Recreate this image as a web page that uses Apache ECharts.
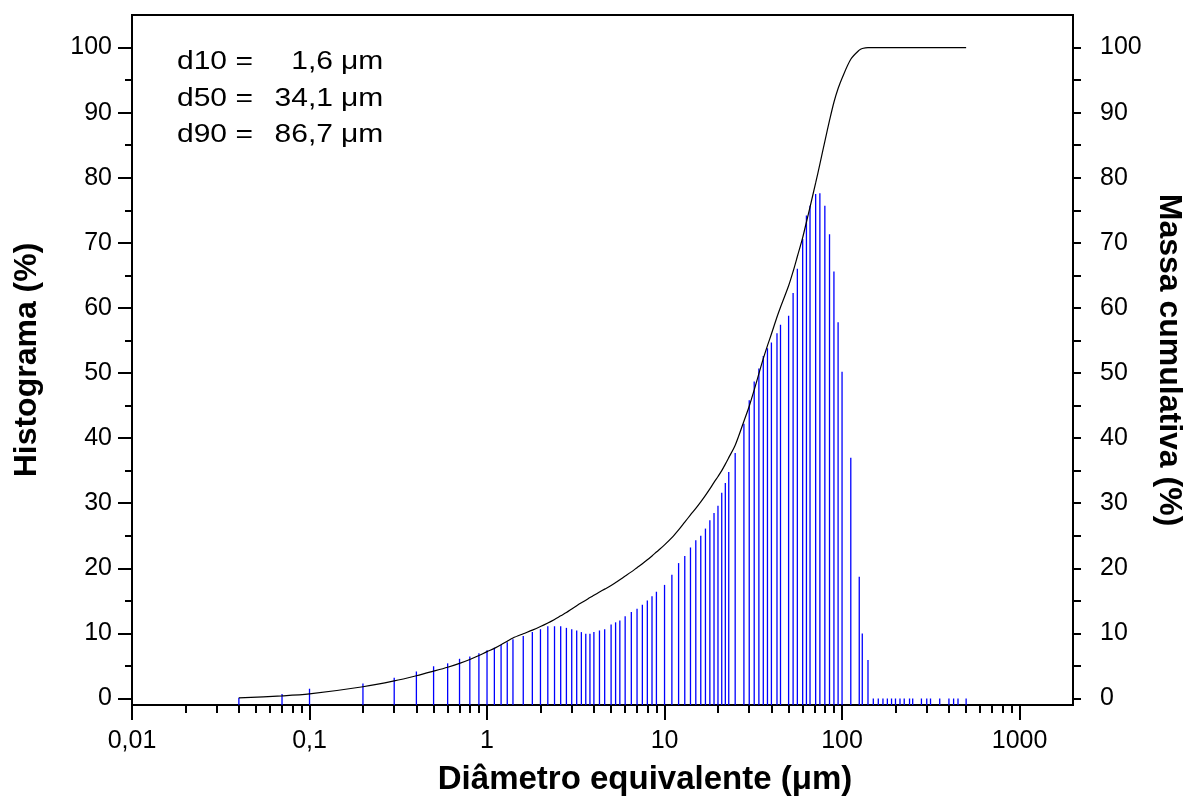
<!DOCTYPE html>
<html>
<head>
<meta charset="utf-8">
<script src="https://cdn.jsdelivr.net/npm/echarts@6/dist/echarts.min.js"></script>
<style>
html,body{margin:0;padding:0;background:#fff;overflow:hidden;}
#chart{width:1183px;height:798px;}
</style>
</head>
<body>
<div id="chart"></div>
<script>
// ---- data ----
const diameters = [0.04, 0.07, 0.1, 0.2, 0.3, 0.4, 0.5, 0.6, 0.7, 0.8, 0.9,
  1.0, 1.1, 1.2, 1.3, 1.4, 1.6, 1.8, 2.0, 2.2, 2.4, 2.6, 2.8, 3.0, 3.2, 3.4, 3.6, 3.8, 4.0,
  4.3, 4.6, 5.0, 5.3, 5.6, 6.0, 6.5, 7.0, 7.5, 8.0, 8.5, 9.0,
  10, 11, 12, 13, 14, 15, 16, 17, 18, 19, 20, 21, 22, 23, 25, 28, 30, 32, 34, 36, 38, 40,
  43, 45, 50, 53, 56, 60, 63, 66, 71, 75, 80, 85, 90, 95, 100,
  112, 125, 130, 140, 150, 160, 170, 180, 190, 200, 212, 224, 240, 250, 280, 300, 315, 355, 400, 425, 450, 500];

const histogram = [0.1, 0.7, 1.5, 2.3, 3.2, 4.15, 4.95, 5.4, 6.1, 6.45, 6.95,
  7.4, 7.8, 8.25, 8.65, 9.1, 9.6, 10.2, 10.65, 11.1, 11.1, 11.1, 10.85, 10.65, 10.45, 10.2, 9.95, 9.95, 10.2,
  10.45, 10.65, 11.35, 11.7, 12.0, 12.65, 13.3, 13.8, 14.4, 15.05, 15.7, 16.4,
  17.45, 19.0, 20.8, 21.9, 23.2, 24.3, 25.0, 26.1, 27.4, 28.5, 29.6, 31.6, 33.1, 34.8, 37.7, 42.2, 45.8, 48.7, 50.7, 52.6, 53.8, 54.7,
  56.1, 57.4, 58.8, 62.3, 66.0, 70.6, 74.2, 75.7, 77.5, 77.6, 75.7, 71.3, 65.6, 57.8, 50.2,
  37.0, 18.7, 10.0, 5.9, 0, 0, 0, 0, 0, 0, 0, 0, 0, 0, 0, 0, 0, 0, 0, 0, 0, 0];

const cumulative = [0.1, 0.4, 0.7, 1.8, 2.7, 3.5, 4.2, 4.8, 5.4, 6.0, 6.6,
  7.2, 7.7, 8.25, 8.8, 9.3, 9.95, 10.5, 11.05, 11.6, 12.15, 12.7, 13.2, 13.75, 14.25, 14.7, 15.1, 15.5, 15.85,
  16.35, 16.8, 17.35, 17.8, 18.25, 18.8, 19.45, 20.1, 20.7, 21.3, 21.9, 22.5,
  23.6, 24.7, 25.9, 27.1, 28.2, 29.2, 30.2, 31.2, 32.2, 33.2, 34.1, 35.0, 36.0, 37.0, 38.9, 42.6, 44.9, 47.4, 49.9, 52.2, 54.2, 56.0,
  58.6, 60.1, 63.4, 65.6, 67.9, 70.8, 73.2, 75.5, 79.2, 82.1, 85.6, 88.8, 91.6, 93.7, 95.3,
  98.2, 99.6, 99.85, 100, 100, 100, 100, 100, 100, 100, 100, 100, 100, 100, 100, 100, 100, 100, 100, 100, 100, 100];

const xMajorTicks = [0.01, 0.1, 1, 10, 100, 1000];
const xMinorTicks = [0.02, 0.03, 0.04, 0.05, 0.06, 0.07, 0.08, 0.09,
  0.2, 0.3, 0.4, 0.5, 0.6, 0.7, 0.8, 0.9,
  2, 3, 4, 5, 6, 7, 8, 9,
  20, 30, 40, 50, 60, 70, 80, 90,
  200, 300, 400, 500, 600, 700, 800, 900];
const yMajorTicks = [0, 10, 20, 30, 40, 50, 60, 70, 80, 90, 100];
const yMinorTicks = [5, 15, 25, 35, 45, 55, 65, 75, 85, 95];
const yRightTicks = [0, 5, 10, 15, 20, 25, 30, 35, 40, 45, 50, 55, 60, 65, 70, 75, 80, 85, 90, 95, 100];

const statLabels = ['d10 =', 'd50 =', 'd90 ='];
const statValues = ['1,6', '34,1', '86,7'];
const statUnit = 'μm';

const X_MIN = 0.01, X_MAX = 2000, Y_MIN = -1, Y_MAX = 105;

// ---- chart ----
const FONT = '"Liberation Sans", Arial, sans-serif';
const fmt = v => String(Number(Number(v).toPrecision(6))).replace('.', ',');

const chart = echarts.init(document.getElementById('chart'), null, {renderer: 'canvas'});

const histData = diameters.map((d, i) => [d, histogram[i]]);
const cumData = diameters.map((d, i) => [d, cumulative[i]]);

const blackLine = {show: true, onZero: false, lineStyle: {color: '#000', width: 2}};

const graphics = [];
statLabels.forEach((lab, i) => {
  const y = 62 + i * 36.7;
  const common = {fill: '#000', font: '25px ' + FONT, verticalAlign: 'middle'};
  graphics.push({type: 'text', x: 177, y: y, scaleX: 1.2, style: Object.assign({text: lab, align: 'left'}, common)});
  graphics.push({type: 'text', x: 333, y: y, scaleX: 1.2, style: Object.assign({text: statValues[i], align: 'right'}, common)});
  graphics.push({type: 'text', x: 341, y: y, scaleX: 1.2, style: Object.assign({text: statUnit, align: 'left'}, common)});
});

chart.setOption({
  animation: false,
  backgroundColor: '#fff',
  textStyle: {fontFamily: FONT},
  grid: {left: 132, right: 110, top: 15, bottom: 93, show: true, borderColor: '#000', borderWidth: 2,
         containLabel: false, outerBoundsMode: 'none'},
  xAxis: [
    {
      type: 'log', min: X_MIN, max: X_MAX, position: 'bottom',
      axisLine: blackLine,
      splitLine: {show: false},
      axisTick: {show: true, inside: false, length: 15, lineStyle: {color: '#000', width: 2}, customValues: xMajorTicks},
      axisLabel: {show: true, margin: 24, color: '#000', fontSize: 25, fontFamily: FONT, customValues: xMajorTicks, formatter: fmt},
      name: 'Diâmetro equivalente (μm)', nameLocation: 'middle', nameGap: 58,
      nameTextStyle: {fontSize: 33, fontWeight: 'bold', color: '#000', fontFamily: FONT, padding: [0, 0, 0, 85]}
    },
    {
      type: 'log', min: X_MIN, max: X_MAX, position: 'bottom',
      axisLine: {show: false, onZero: false},
      splitLine: {show: false},
      axisTick: {show: true, inside: false, length: 8, lineStyle: {color: '#000', width: 2}, customValues: xMinorTicks},
      axisLabel: {show: false}
    }
  ],
  yAxis: [
    {
      type: 'value', min: Y_MIN, max: Y_MAX, position: 'left',
      axisLine: blackLine,
      splitLine: {show: false},
      axisTick: {show: true, length: 14, lineStyle: {color: '#000', width: 2}, customValues: yMajorTicks},
      axisLabel: {show: true, margin: 20, color: '#000', fontSize: 25, fontFamily: FONT, customValues: yMajorTicks},
      name: 'Histograma (%)', nameLocation: 'middle', nameGap: 89,
      nameTextStyle: {fontSize: 32, fontWeight: 'bold', color: '#000', fontFamily: FONT}
    },
    {
      type: 'value', min: Y_MIN, max: Y_MAX, position: 'left',
      axisLine: {show: false, onZero: false},
      splitLine: {show: false},
      axisTick: {show: true, length: 7, lineStyle: {color: '#000', width: 2}, customValues: yMinorTicks},
      axisLabel: {show: false}
    },
    {
      type: 'value', min: Y_MIN, max: Y_MAX, position: 'right',
      axisLine: blackLine,
      splitLine: {show: false},
      axisTick: {show: true, length: 8, lineStyle: {color: '#000', width: 2}, customValues: yRightTicks},
      axisLabel: {show: true, margin: 27, color: '#000', fontSize: 25, fontFamily: FONT, customValues: yMajorTicks},
      name: 'Massa cumulativa (%)', nameLocation: 'middle', nameGap: 73, nameRotate: -90,
      nameTextStyle: {fontSize: 32, fontWeight: 'bold', color: '#000', fontFamily: FONT}
    }
  ],
  series: [
    {
      type: 'custom', name: 'Histograma', xAxisIndex: 0, yAxisIndex: 0,
      data: histData,
      renderItem: (params, api) => {
        const x = api.value(0), y = api.value(1);
        const p0 = api.coord([x, Y_MIN]);
        const p1 = api.coord([x, y]);
        return {type: 'line', shape: {x1: p0[0], y1: p0[1], x2: p1[0], y2: p1[1]},
                style: {stroke: '#0000ff', lineWidth: 1.3}};
      },
      silent: true
    },
    {
      type: 'line', name: 'Massa cumulativa', xAxisIndex: 0, yAxisIndex: 2,
      data: cumData, showSymbol: false, symbol: 'none', smooth: 0.3,
      lineStyle: {color: '#000', width: 1.2}, silent: true, z: 3
    }
  ],
  graphic: graphics
});
</script>
</body>
</html>
